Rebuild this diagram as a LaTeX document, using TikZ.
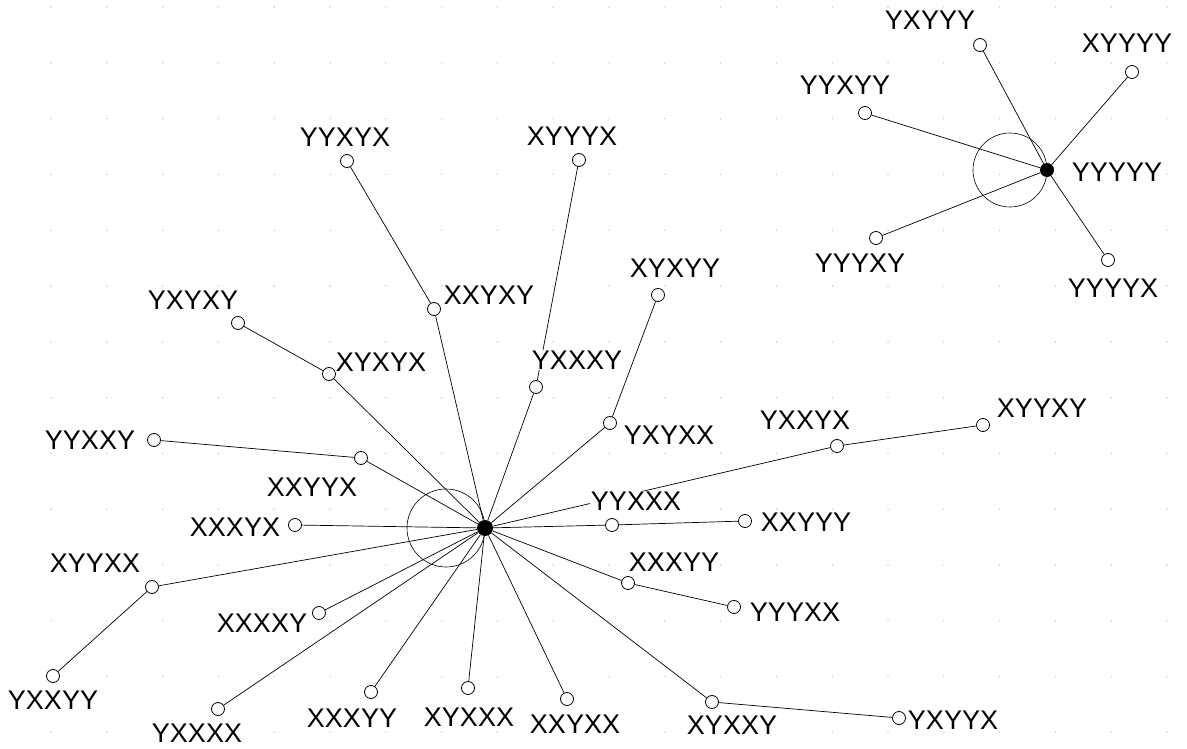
\documentclass[tikz,border=0pt]{standalone}
\usepackage{fontspec}
\setmainfont{Liberation Sans}
\begin{document}
\begin{tikzpicture}[x=1pt,y=-1pt,
  vertex/.style={circle,draw,fill=white,line width=0.8pt,inner sep=0pt,minimum size=13pt},
  hub/.style={circle,fill=black,inner sep=0pt,minimum size=#1},
  lbl/.style={fill=white,inner sep=1pt,font=\fontsize{27}{27}\selectfont},
  link/.style={line width=0.7pt},
  loopc/.style={line width=0.6pt}]
\useasboundingbox (0,0) rectangle (1187,749);
\fill[white] (0,0) rectangle (1187,749);
% faint dotted grid
\foreach \i in {0,...,20}
  \foreach \j in {0,...,13}
    \fill[black!22] (51+55.8*\i,7+55.8*\j) circle (0.8pt);

% hubs
\node[hub=16pt] (h1) at (485,528) {};
\node[hub=14pt] (h2) at (1047,170) {};

% vertices of the large star
\node[vertex] (a1) at (434,309) {};
\node[vertex] (a2) at (347,161) {};
\node[vertex] (b1) at (329,374) {};
\node[vertex] (b2) at (238,323) {};
\node[vertex] (c1) at (361,458) {};
\node[vertex] (c2) at (154,440) {};
\node[vertex] (d)  at (295,525) {};
\node[vertex] (e1) at (152,587) {};
\node[vertex] (e2) at (53,676) {};
\node[vertex] (f)  at (319,613) {};
\node[vertex] (g)  at (218,709) {};
\node[vertex] (h)  at (371,692) {};
\node[vertex] (i)  at (468,688) {};
\node[vertex] (j)  at (567,699) {};
\node[vertex] (k1) at (712,702) {};
\node[vertex] (k2) at (899,718) {};
\node[vertex] (l1) at (628,583) {};
\node[vertex] (l2) at (734,607) {};
\node[vertex] (m1) at (612,525) {};
\node[vertex] (m2) at (745,521) {};
\node[vertex] (n1) at (837,446) {};
\node[vertex] (n2) at (983,425) {};
\node[vertex] (o1) at (610,423) {};
\node[vertex] (o2) at (658,295) {};
\node[vertex] (p1) at (536,387) {};
\node[vertex] (p2) at (579,160) {};

% vertices of the small star
\node[vertex] (q1) at (980,45) {};
\node[vertex] (q2) at (1132,72) {};
\node[vertex] (q3) at (865,113) {};
\node[vertex] (q4) at (876,238) {};
\node[vertex] (q5) at (1108,260) {};

% self-loops
\draw[loopc] ([xshift=-39pt]h1.center) circle (39pt);
\draw[loopc] ([xshift=-37pt]h2.center) circle (37pt);

% edges
\foreach \a/\b in {h1/a1,a1/a2,h1/b1,b1/b2,h1/c1,c1/c2,h1/d,h1/e1,e1/e2,h1/f,h1/g,h1/h,h1/i,h1/j,
                   h1/k1,k1/k2,h1/l1,l1/l2,h1/m1,m1/m2,h1/n1,n1/n2,h1/o1,o1/o2,h1/p1,p1/p2,
                   h2/q1,h2/q2,h2/q3,h2/q4,h2/q5}
  \draw[link] (\a) -- (\b);

% labels
\node[lbl] at (489,295) {XXYXY};
\node[lbl] at (345,137) {YYXYX};
\node[lbl] at (381,362) {XYXYX};
\node[lbl] at (193,300) {YXYXY};
\node[lbl] at (312,487) {XXYYX};
\node[lbl] at (90,440)  {YYXXY};
\node[lbl] at (235,527) {XXXYX};
\node[lbl] at (95,563)  {XYYXX};
\node[lbl] at (53,700)  {YXXYY};
\node[lbl] at (262,623) {XXXXY};
\node[lbl] at (197,733) {YXXXX};
\node[lbl] at (352,718) {XXXYY};
\node[lbl] at (469,717) {XYXXX};
\node[lbl] at (575,724) {XXYXX};
\node[lbl] at (732,725) {XYXXY};
\node[lbl] at (953,720) {YXYYX};
\node[lbl] at (674,562) {XXXYY};
\node[lbl] at (795,612) {YYYXX};
\node[lbl] at (636,501) {YYXXX};
\node[lbl] at (806,522) {XXYYY};
\node[lbl] at (805,420) {YXXYX};
\node[lbl] at (1042,408) {XYYXY};
\node[lbl] at (669,435) {YXYXX};
\node[lbl] at (675,268) {XYXYY};
\node[lbl] at (577,360) {YXXXY};
\node[lbl] at (572,136) {XYYYX};
\node[lbl] at (1117,172) {YYYYY};
\node[lbl] at (930,20)  {YXYYY};
\node[lbl] at (1127,43) {XYYYY};
\node[lbl] at (845,85)  {YYXYY};
\node[lbl] at (860,263) {YYYXY};
\node[lbl] at (1113,288) {YYYYX};
\end{tikzpicture}
\end{document}
